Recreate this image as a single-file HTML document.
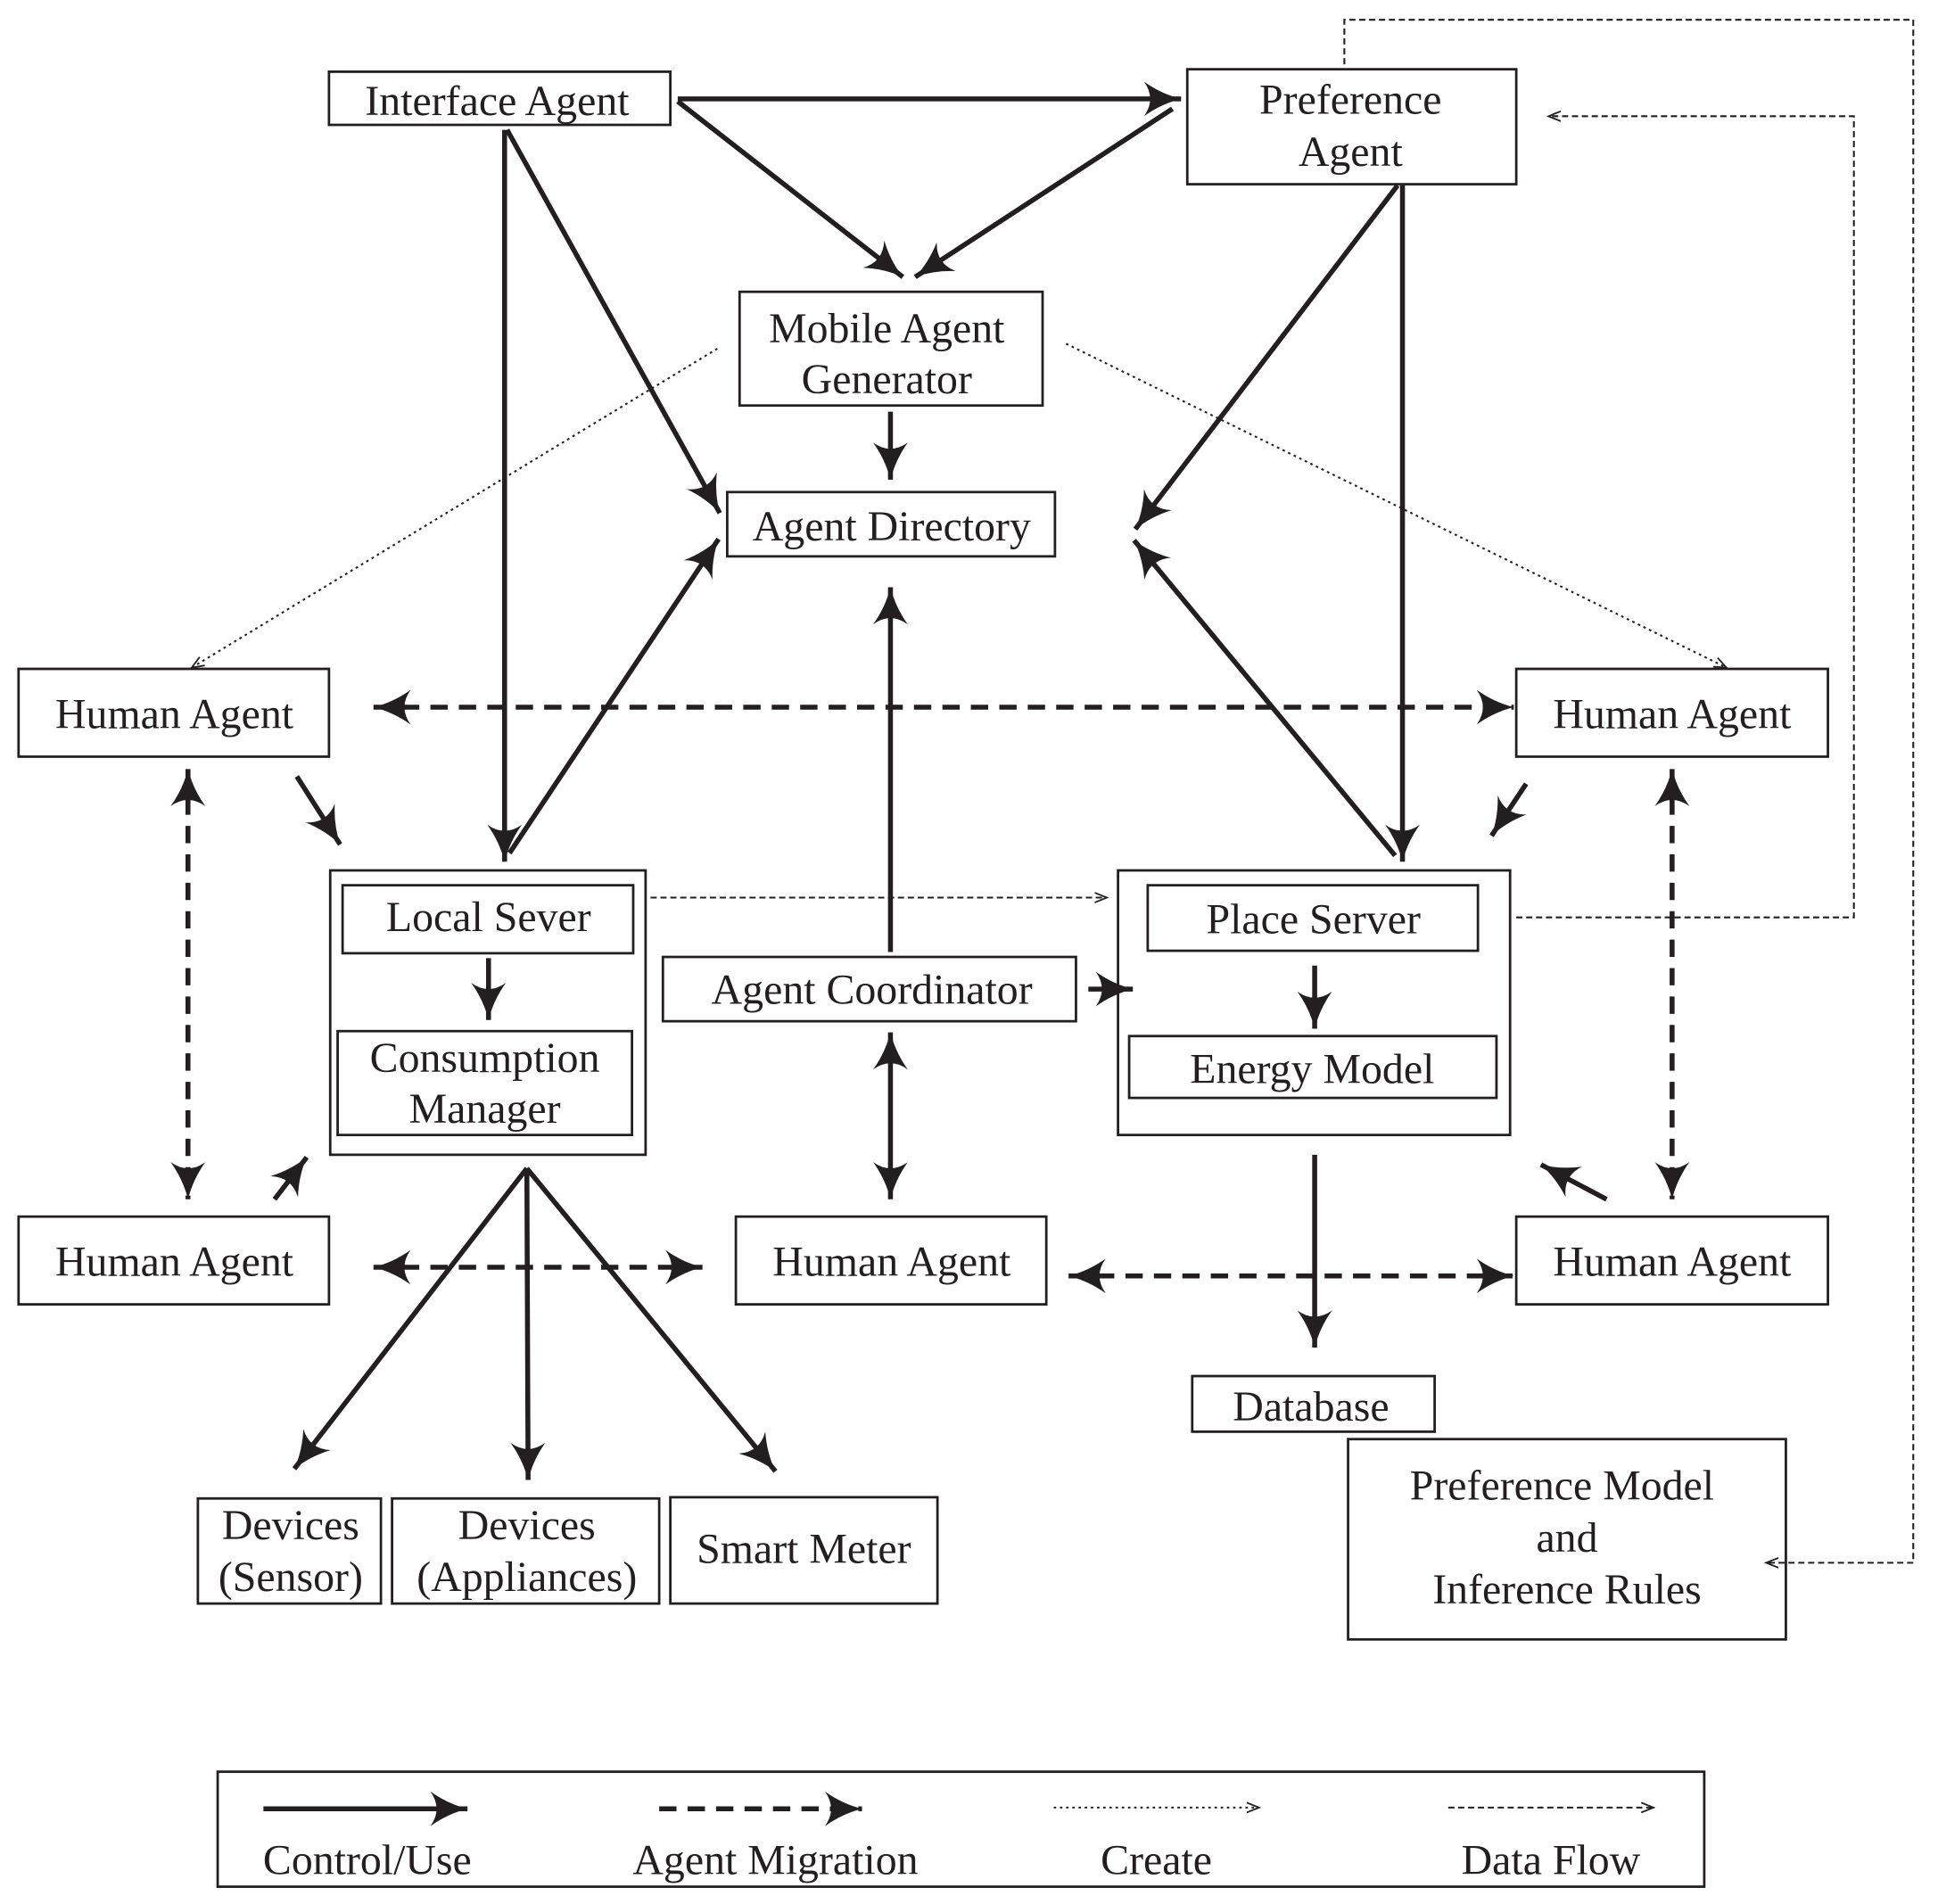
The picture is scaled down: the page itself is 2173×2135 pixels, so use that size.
<!DOCTYPE html>
<html><head><meta charset="utf-8"><style>
html,body{margin:0;padding:0;background:#fff;}
svg{display:block;}
text{font-family:"Liberation Serif",serif;font-size:34.5px;fill:#231f20;text-anchor:middle;}
</style></head><body>
<svg width="2173" height="2135" viewBox="0 0 1567 1540" preserveAspectRatio="none" xmlns="http://www.w3.org/2000/svg">
<defs>
<marker id="a" markerUnits="userSpaceOnUse" markerWidth="34" markerHeight="30" refX="30" refY="14" orient="auto-start-reverse" viewBox="0 0 34 30">
<path d="M0,0 Q14,10 30,14 Q14,18 0,28 Q10,14 0,0 Z" fill="#231f20"/>
</marker>
<marker id="s" markerUnits="userSpaceOnUse" markerWidth="12" markerHeight="12" refX="10" refY="5" orient="auto" viewBox="0 0 12 10">
<path d="M0,1 L10,5 L0,9" fill="none" stroke="#231f20" stroke-width="1.3"/>
</marker>
</defs>
<rect width="1567" height="1540" fill="#fff"/>
<g fill="none" stroke="#231f20" stroke-width="2">
<rect x="266" y="58" width="276" height="43"/>
<rect x="960" y="56" width="266" height="93"/>
<rect x="598" y="236" width="245" height="92"/>
<rect x="588" y="398" width="265" height="52"/>
<rect x="15" y="541" width="251" height="71"/>
<rect x="1226" y="541" width="252" height="71"/>
<rect x="267" y="704" width="255" height="230"/>
<rect x="277" y="716" width="235" height="55"/>
<rect x="273" y="834" width="238" height="84"/>
<rect x="536" y="774" width="334" height="52"/>
<rect x="904" y="704" width="317" height="214"/>
<rect x="928" y="716" width="267" height="53"/>
<rect x="913" y="838" width="297" height="50"/>
<rect x="15" y="984" width="251" height="71"/>
<rect x="595" y="984" width="251" height="71"/>
<rect x="1226" y="984" width="252" height="71"/>
<rect x="964" y="1113" width="196" height="45"/>
<rect x="1090" y="1164" width="354" height="162"/>
<rect x="160" y="1212" width="148" height="85"/>
<rect x="317" y="1212" width="216" height="85"/>
<rect x="542" y="1211" width="216" height="86"/>
<rect x="176" y="1433" width="1202" height="93"/>
</g>
<g stroke="#231f20" stroke-width="4" fill="none" marker-end="url(#a)">
<line x1="548" y1="80" x2="955" y2="80"/>
<line x1="548" y1="82" x2="730" y2="224"/>
<line x1="948" y1="88" x2="740" y2="224"/>
<line x1="408" y1="105" x2="408" y2="697"/>
<line x1="410" y1="105" x2="582" y2="415"/>
<line x1="720" y1="333" x2="720" y2="388"/>
<line x1="412" y1="690" x2="581" y2="436"/>
<line x1="720" y1="770" x2="720" y2="475"/>
<line x1="1130" y1="150" x2="918" y2="428"/>
<line x1="1134" y1="150" x2="1134" y2="697"/>
<line x1="1128" y1="692" x2="917" y2="437"/>
<line x1="720" y1="835" x2="720" y2="970" marker-start="url(#a)"/>
<line x1="880" y1="800" x2="916" y2="800"/>
<line x1="395" y1="775" x2="395" y2="825"/>
<line x1="1063" y1="781" x2="1063" y2="832"/>
<line x1="426" y1="945" x2="238" y2="1188"/>
<line x1="426" y1="945" x2="427" y2="1197"/>
<line x1="426" y1="945" x2="627" y2="1190"/>
<line x1="1063" y1="934" x2="1063" y2="1090"/>
<line x1="240" y1="628" x2="275" y2="683"/>
<line x1="1234" y1="634" x2="1206" y2="676"/>
<line x1="222" y1="970" x2="248" y2="936"/>
<line x1="1299" y1="970" x2="1246" y2="942"/>
<line x1="213" y1="1463" x2="378" y2="1463"/>
</g>
<g stroke="#231f20" stroke-width="4" fill="none" stroke-dasharray="14,9" marker-end="url(#a)" marker-start="url(#a)">
<line x1="302" y1="572" x2="1224" y2="572"/>
<line x1="152" y1="622" x2="152" y2="970"/>
<line x1="1352" y1="622" x2="1352" y2="970"/>
<line x1="302" y1="1025" x2="568" y2="1025"/>
<line x1="864" y1="1032" x2="1224" y2="1032"/>
<line x1="533" y1="1463" x2="697" y2="1463" marker-start="none"/>
</g>
<g stroke="#231f20" stroke-width="1.5" fill="none" stroke-dasharray="2,3" marker-end="url(#s)">
<line x1="580" y1="282" x2="155" y2="540"/>
<line x1="862" y1="278" x2="1396" y2="540"/>
<line x1="852" y1="1462" x2="1018" y2="1462"/>
</g>
<g stroke="#231f20" stroke-width="1.5" fill="none" stroke-dasharray="5,3" marker-end="url(#s)">
<line x1="526" y1="726" x2="895" y2="726"/>
<polyline points="1226,742 1499,742 1499,94 1252,94"/>
<polyline points="1087,52 1087,16 1547,16 1547,1264 1428,1264"/>
<line x1="1171" y1="1462" x2="1337" y2="1462"/>
</g>
<text x="402" y="93">Interface Agent</text>
<text x="1092" y="92">Preference</text>
<text x="1092" y="134">Agent</text>
<text x="717" y="277">Mobile Agent</text>
<text x="717" y="318">Generator</text>
<text x="721" y="437">Agent Directory</text>
<text x="141" y="589">Human Agent</text>
<text x="1352" y="589">Human Agent</text>
<text x="395" y="753">Local Sever</text>
<text x="392" y="867">Consumption</text>
<text x="392" y="908">Manager</text>
<text x="705" y="812">Agent Coordinator</text>
<text x="1062" y="755">Place Server</text>
<text x="1061" y="876">Energy Model</text>
<text x="141" y="1032">Human Agent</text>
<text x="721" y="1032">Human Agent</text>
<text x="1352" y="1032">Human Agent</text>
<text x="1060" y="1149">Database</text>
<text x="1263" y="1213">Preference Model</text>
<text x="1267" y="1255">and</text>
<text x="1267" y="1297">Inference Rules</text>
<text x="235" y="1245">Devices</text>
<text x="235" y="1287">(Sensor)</text>
<text x="426" y="1245">Devices</text>
<text x="426" y="1287">(Appliances)</text>
<text x="650" y="1264">Smart Meter</text>
<text x="297" y="1516">Control/Use</text>
<text x="627" y="1516">Agent Migration</text>
<text x="935" y="1516">Create</text>
<text x="1254" y="1516">Data Flow</text>
</svg>
</body></html>
